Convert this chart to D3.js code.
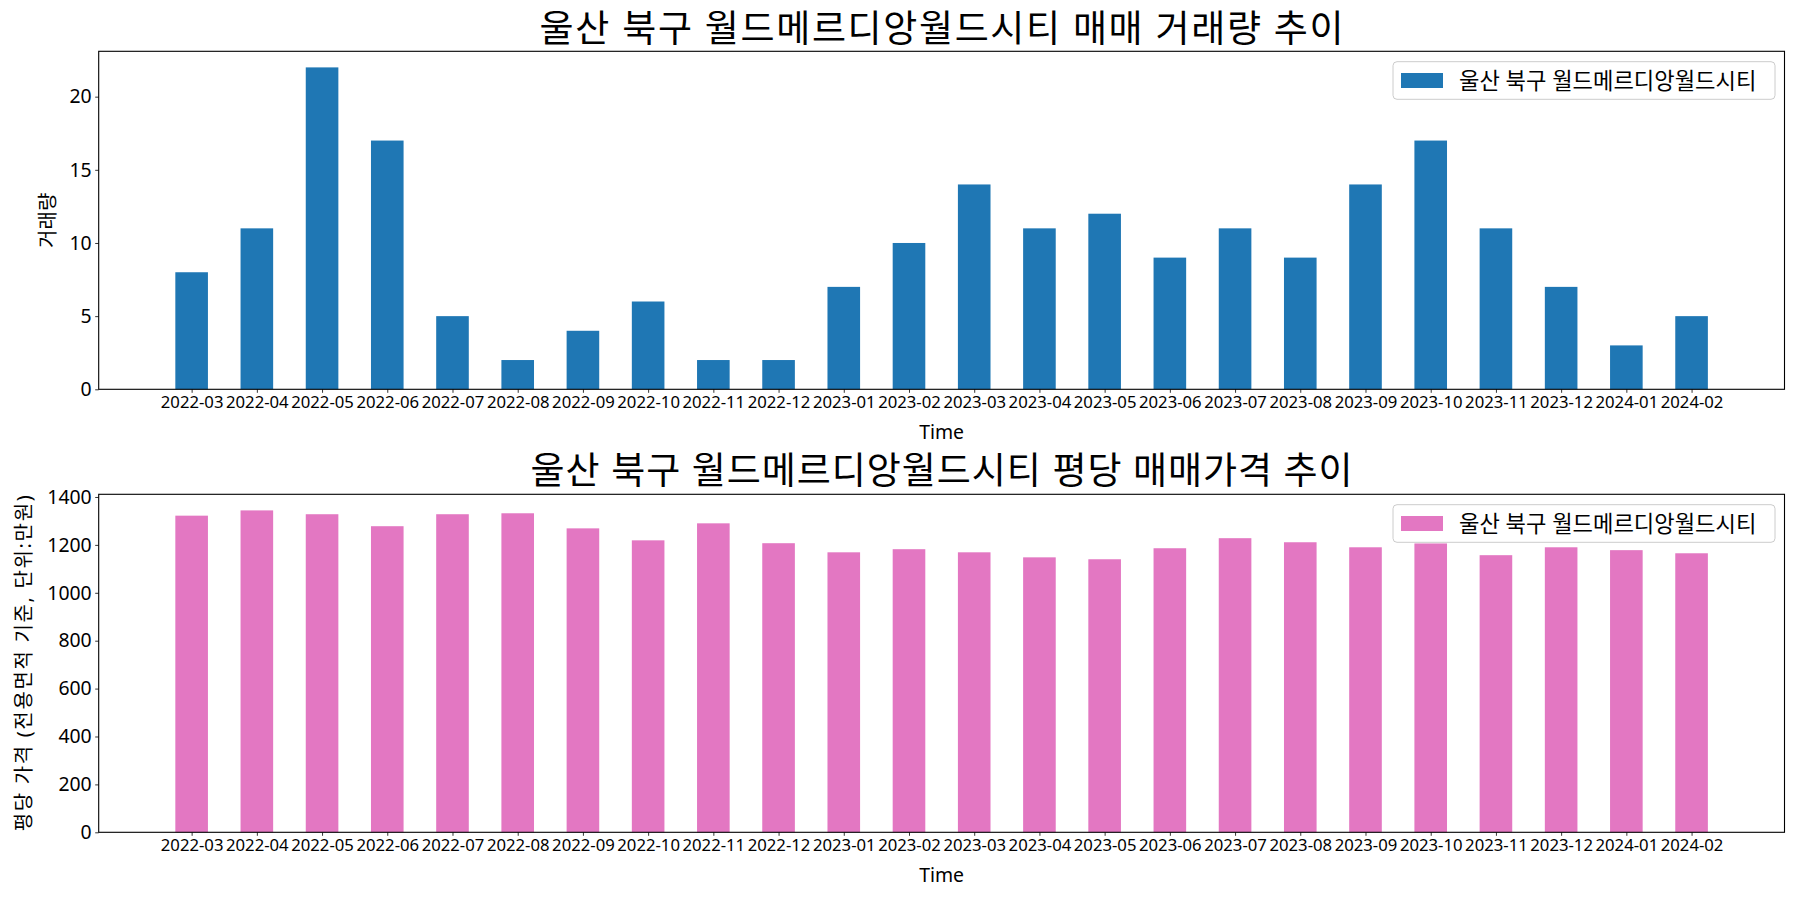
<!DOCTYPE html>
<html>
<head>
<meta charset="utf-8">
<script src="https://cdn.jsdelivr.net/npm/d3@7"></script>
<style>
  html, body { margin: 0; padding: 0; background: #fff; }
  svg { display: block; }
  text { font-family: "Noto Sans", "Noto Sans CJK KR", sans-serif; fill: #000; }
</style>
</head>
<body>
<svg id="chart" width="1800" height="900"></svg>
<script>
const months = ["2022-03","2022-04","2022-05","2022-06","2022-07","2022-08","2022-09","2022-10","2022-11","2022-12",
  "2023-01","2023-02","2023-03","2023-04","2023-05","2023-06","2023-07","2023-08","2023-09","2023-10","2023-11","2023-12",
  "2024-01","2024-02"];
const volume = [8, 11, 22, 17, 5, 2, 4, 6, 2, 2, 7, 10, 14, 11, 12, 9, 11, 9, 14, 17, 11, 7, 3, 5];
const price = [1322, 1344, 1328, 1278, 1328, 1332, 1269, 1219, 1290, 1207, 1169, 1182, 1169, 1148, 1140, 1186,
  1228, 1211, 1190, 1206, 1157, 1190, 1178, 1165];
const volumeTicks = [0, 5, 10, 15, 20];
const priceTicks = [0, 200, 400, 600, 800, 1000, 1200, 1400];
const seriesName = "울산 북구 월드메르디앙월드시티";
const title1 = "울산 북구 월드메르디앙월드시티 매매 거래량 추이";
const title2 = "울산 북구 월드메르디앙월드시티 평당 매매가격 추이";
const ylabel1 = "거래량";
const ylabel2 = "평당 가격 (전용면적 기준, 단위:만원)";
const xlabel = "Time";

const svg = d3.select("#chart");
const left = 98.7, right = 1784.5;
const barW = 0.5;
const x = d3.scaleLinear().domain([-0.25 - 1.175, 23.25 + 1.175]).range([left, right]);

function panel(cfg) {
  const g = svg.append("g");
  const y = d3.scaleLinear().domain([0, cfg.ymax]).range([cfg.bottom, cfg.top]);
  g.selectAll("rect.bar").data(cfg.values).enter().append("rect")
    .attr("class", "bar")
    .attr("x", (d, i) => x(i - barW / 2))
    .attr("width", (d, i) => x(i + barW / 2) - x(i - barW / 2))
    .attr("y", d => y(d))
    .attr("height", d => y(0) - y(d))
    .attr("fill", cfg.color);
  const xa = d3.axisBottom(x).tickValues(d3.range(months.length)).tickFormat(i => months[i])
    .tickSize(3.5).tickPadding(3.5);
  const gx = g.append("g").attr("transform", `translate(0,${cfg.bottom})`).call(xa);
  gx.select(".domain").remove();
  gx.selectAll("line").attr("stroke", "#000").attr("stroke-width", 0.8);
  gx.selectAll("text").attr("font-size", 16.7).attr("font-family", "'Noto Sans', 'Noto Sans CJK KR', sans-serif").attr("fill", "#000");
  const ya = d3.axisLeft(y).tickValues(cfg.ticks).tickFormat(d3.format("d")).tickSize(3.5).tickPadding(3.5);
  const gy = g.append("g").attr("transform", `translate(${left},0)`).call(ya);
  gy.select(".domain").remove();
  gy.selectAll("line").attr("stroke", "#000").attr("stroke-width", 0.8);
  gy.selectAll("text").attr("font-size", 19.4).attr("font-family", "'Noto Sans', 'Noto Sans CJK KR', sans-serif").attr("fill", "#000");
  g.append("rect").attr("x", left).attr("y", cfg.top).attr("width", right - left).attr("height", cfg.bottom - cfg.top)
    .attr("fill", "none").attr("stroke", "#000").attr("stroke-width", 1.1);
  g.append("text").attr("x", (left + right) / 2).attr("y", cfg.titleY).attr("text-anchor", "middle")
    .attr("dominant-baseline", "central").attr("font-size", 37)
    .attr("textLength", cfg.titleLen).attr("lengthAdjust", "spacing").text(cfg.title);
  g.append("text").attr("x", (left + right) / 2).attr("y", cfg.bottom + 42).attr("text-anchor", "middle")
    .attr("dominant-baseline", "central").attr("font-size", 19.4).text(xlabel);
  const yl = g.append("text").attr("transform", `translate(${cfg.ylabelX},${(cfg.top + cfg.bottom) / 2}) rotate(-90)`)
    .attr("text-anchor", "middle").attr("dominant-baseline", "central").attr("font-size", 20).text(cfg.ylabel);
  if (cfg.ylabelLen) yl.attr("textLength", cfg.ylabelLen).attr("lengthAdjust", "spacing");
  const lg = g.append("g");
  const lx0 = 1393, lx1 = 1775, ly0 = cfg.top + 10.4, ly1 = cfg.top + 48;
  lg.append("rect").attr("x", lx0).attr("y", ly0).attr("width", lx1 - lx0).attr("height", ly1 - ly0)
    .attr("rx", 4).attr("fill", "#fff").attr("fill-opacity", 0.8).attr("stroke", "#cccccc").attr("stroke-width", 1);
  const lcy = (ly0 + ly1) / 2;
  lg.append("rect").attr("x", 1401).attr("y", lcy - 7.5).attr("width", 42).attr("height", 15).attr("fill", cfg.color);
  lg.append("text").attr("x", 1459).attr("y", lcy).attr("dominant-baseline", "central")
    .attr("font-size", 22.2).text(seriesName);
}

panel({ values: volume, ymax: 23.1, ticks: volumeTicks, top: 51.3, bottom: 389.3, color: "#1f77b4",
  title: title1, titleY: 27, titleLen: 804, ylabel: ylabel1, ylabelX: 47, ylabelLen: null });
panel({ values: price, ymax: 1411.2, ticks: priceTicks, top: 494.3, bottom: 832.3, color: "#e377c2",
  title: title2, titleY: 469, titleLen: 822, ylabel: ylabel2, ylabelX: 23, ylabelLen: 336 });
</script>
</body>
</html>
